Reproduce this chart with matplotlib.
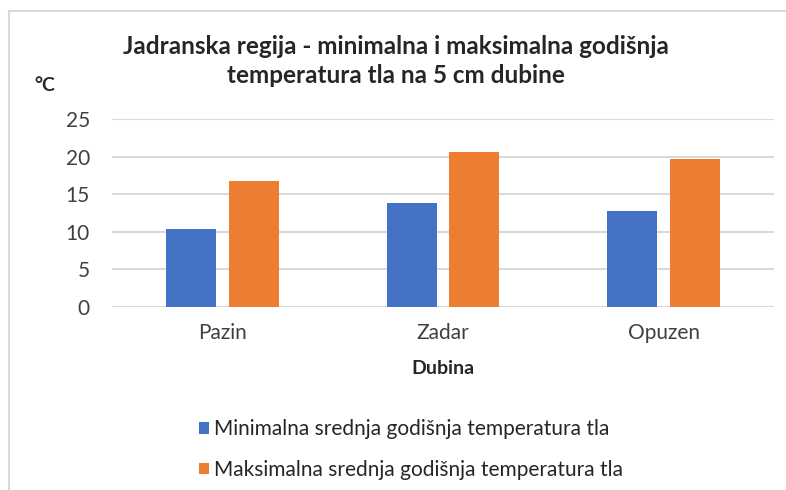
import matplotlib.pyplot as plt
import numpy as np

# data
locations = ["Pazin", "Zadar", "Opuzen"]
min_temp = [10.4, 13.8, 12.8]
max_temp = [16.7, 20.6, 19.7]
series_names = ["Minimalna srednja godišnja temperatura tla",
                "Maksimalna srednja godišnja temperatura tla"]
yticks = [0, 5, 10, 15, 20, 25]

plt.rcParams['font.family'] = ['Lato', 'DejaVu Sans']

fig = plt.figure(figsize=(7.86, 4.90), dpi=100)
ax = fig.add_axes([0.1425, 0.374, 0.8422, 0.383])

x = np.arange(len(locations))
w = 0.226
b1 = ax.bar(x - 0.142, min_temp, w, color="#4472C4", label=series_names[0], zorder=3)
b2 = ax.bar(x + 0.142, max_temp, w, color="#ED7D31", label=series_names[1], zorder=3)

ax.set_xlim(-0.5, 2.5)
ax.set_ylim(0, 25)
ax.set_yticks(yticks)
ax.set_xticks(x)
ax.set_xticklabels(locations)
ax.tick_params(axis='both', length=0, labelsize=15, labelcolor="#404040")
ax.tick_params(axis='y', pad=16)
ax.tick_params(axis='x', pad=12)
ax.grid(axis='y', color="#D9D9D9", linewidth=1.5, zorder=0)
for s in ax.spines.values():
    s.set_visible(False)

ax.set_xlabel("Dubina", fontsize=14, fontweight='bold', color="#262626", labelpad=12)

fig.text(0.504, 0.876, "Jadranska regija - minimalna i maksimalna godišnja\ntemperatura tla na 5 cm dubine",
         ha='center', va='center', fontsize=17.5, fontweight='bold', color="#262626", linespacing=1.3)
fig.text(0.044, 0.825, "°C", fontsize=14, fontweight='bold', color="#262626", ha='left', va='center')

fig.legend(handles=[b1, b2], loc='upper left', bbox_to_anchor=(0.229, 0.183),
           frameon=False, fontsize=15, handlelength=0.5, handleheight=0.5,
           handletextpad=0.25, labelspacing=1.0, labelcolor="#262626")

# outer chart border (top and left only, rest cropped)
fig.add_artist(plt.Line2D([0.0115, 1.0], [0.977, 0.977], color="#D9D9D9", linewidth=1.5))
fig.add_artist(plt.Line2D([0.0115, 0.0115], [0.0, 0.977], color="#D9D9D9", linewidth=1.5))

fig.savefig("out.png", dpi=100)
